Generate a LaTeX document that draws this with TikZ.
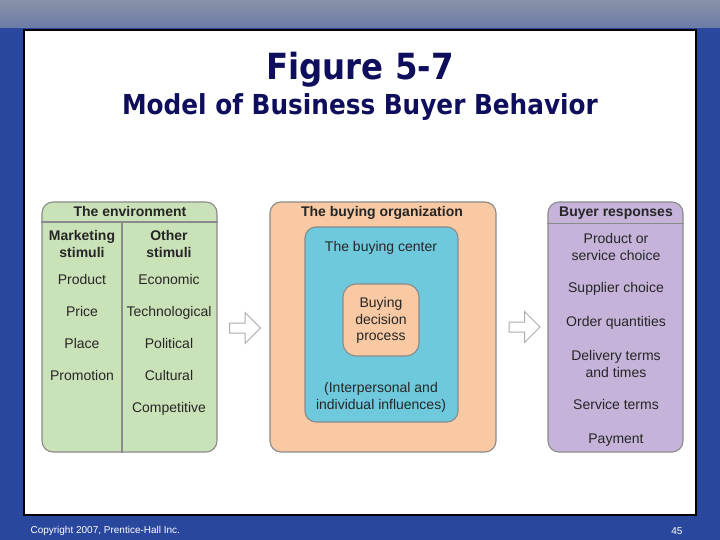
\documentclass[tikz,border=0pt]{standalone}
\usepackage{fontspec}
\setmainfont{Liberation Sans}
\newfontfamily\titlefont{DejaVu Sans}[FakeStretch=0.9]
\usetikzlibrary{positioning,shapes.arrows}
\usepackage[dvipsnames]{xcolor}
\definecolor{bgblue}{HTML}{2A479E}
\definecolor{bgtop}{HTML}{8892A8}
\definecolor{titleblue}{HTML}{0E0E5C}
\definecolor{envgreen}{HTML}{CAE2B8}
\definecolor{orgpeach}{HTML}{F8C9A2}
\definecolor{centerblue}{HTML}{6FC9DD}
\definecolor{resplilac}{HTML}{C5B3DA}
\definecolor{edgegray}{HTML}{8A8A8A}

\begin{document}
\begin{tikzpicture}[x=1pt, y=-1pt,
    panel/.style={draw=edgegray, line width=1.1pt, rounded corners=11pt, inner sep=0pt},
    item/.style={font=\fontsize{14}{17}\selectfont, align=center, text=black!85},
    oneline/.style={item, text height=10pt, text depth=3pt},
    headtext/.style={item, font=\fontsize{14}{17}\selectfont\bfseries},
    hollow/.style={single arrow, draw=gray!65, line width=1pt, fill=white, inner sep=4.5pt,
        single arrow head extend=10.5pt, minimum height=31pt}]
                \useasboundingbox (0,0) rectangle (720,540);

                % Draw the slide background
                \fill[bgblue] (0,0) rectangle (720,540);
                \shade[top color=bgtop, bottom color=bgtop!70!bgblue] (0,0) rectangle (720,28);
                \draw[black, line width=2.2pt, fill=white] (24,30) rectangle (696,515);

                % Draw the title
                \node[anchor=base, text=titleblue, font=\titlefont\bfseries\fontsize{36}{40}\selectfont] (title) at (360,80) {Figure 5-7};
                \node[anchor=base, text=titleblue, font=\titlefont\bfseries\fontsize{27.5}{32}\selectfont] (subtitle) at (360,115) {Model of Business Buyer Behavior};

                % Draw the three panels
                \node[panel, fill=envgreen, minimum width=175pt, minimum height=250pt] (env) at (129.5,327) {};
                \node[panel, fill=orgpeach, minimum width=226pt, minimum height=250pt] (org) at (383,327) {};
                \node[panel, fill=centerblue, minimum width=153pt, minimum height=195pt] (center) at (381.5,324.5) {};
                \node[panel, fill=orgpeach, minimum width=76pt, minimum height=72pt, rounded corners=13pt] (process) at (381,320) {};
                \node[panel, fill=resplilac, minimum width=135pt, minimum height=250pt] (resp) at (615.5,327) {};

                % Draw the dividers inside the side panels
                \coordinate (split) at (122,222);
                \draw[edgegray, line width=1.1pt] (env.west |- split) -- (env.east |- split);
                \draw[edgegray, line width=1.1pt] (split) -- (split |- env.south);
                \draw[edgegray, line width=1.1pt] ([yshift=-1.5pt]resp.west |- split) -- ([yshift=-1.5pt]resp.east |- split);

                % Draw texts for the environment
                \node[headtext, text height=10pt, text depth=3pt] (envhead) at (130,213.5) {The environment};
                \node[headtext] (mkt) at (82,243.5) {Marketing\\stimuli};
                \node[headtext] (oth) at (169,243.5) {Other\\stimuli};
                \node[oneline] (product) at (82,281) {Product};
                \node[oneline] (price) at (82,313) {Price};
                \node[oneline] (place) at (82,345) {Place};
                \node[oneline] (promo) at (82,377) {Promotion};
                \node[oneline] (econ) at (169,281) {Economic};
                \node[oneline] (tech) at (169,313) {Technological};
                \node[oneline] (polit) at (169,345) {Political};
                \node[oneline] (cult) at (169,377) {Cultural};
                \node[oneline] (compet) at (169,409) {Competitive};

                % Draw texts for the buying organization
                \node[headtext, text height=10pt, text depth=3pt] (orghead) at (382,213.5) {The buying organization};
                \node[oneline] (centerhead) at (381,248) {The buying center};
                \node[item, font=\fontsize{14}{16.5}\selectfont] (decision) at (381,320.5) {Buying\\decision\\process};
                \node[item] (influence) at (381,397.5) {(Interpersonal and\\individual influences)};

                % Draw texts for the buyer responses
                \node[headtext, text height=10pt, text depth=3pt] (resphead) at (616,213.5) {Buyer responses};
                \node[item] (choice) at (616,246.5) {Product or\\service choice};
                \node[oneline] (supplier) at (616,289) {Supplier choice};
                \node[oneline] (order) at (616,323) {Order quantities};
                \node[item] (delivery) at (616,363.5) {Delivery terms\\and times};
                \node[oneline] (service) at (616,406) {Service terms};
                \node[oneline] (payment) at (616,440) {Payment};

                % Draw the hollow arrows between panels
                \node[hollow] (arr1) at (242.5,328) {};
                \node[hollow] (arr2) at (522,327) {};

                % Draw the footer
                \node[anchor=west, text=white, font=\fontsize{10}{11}\selectfont] (copy) at (27,531) {Copyright 2007, Prentice-Hall Inc.};
                \node[anchor=east, text=white, font=\fontsize{10}{11}\selectfont] (page) at (686,531) {45};
            \end{tikzpicture}
\end{document}
